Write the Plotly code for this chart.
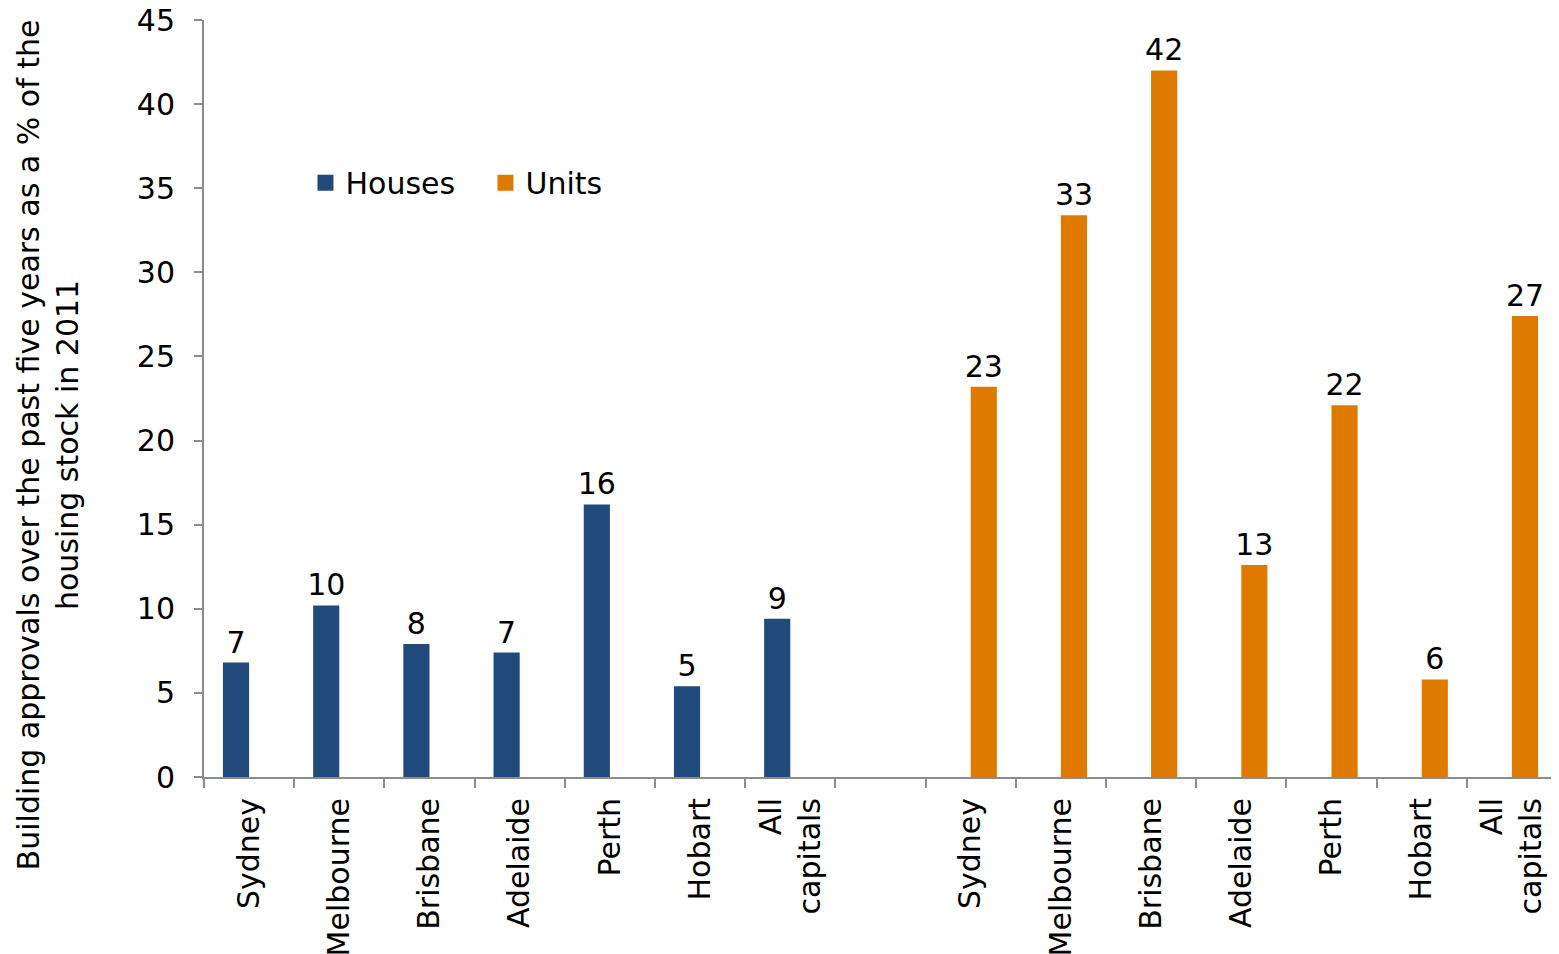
import plotly.graph_objects as go

cities = ["Sydney", "Melbourne", "Brisbane", "Adelaide", "Perth", "Hobart", "All<br>capitals"]
houses = [6.8, 10.2, 7.9, 7.4, 16.2, 5.4, 9.4]
units = [23.2, 33.4, 42.0, 12.6, 22.1, 5.8, 27.4]

# houses in slots 0-6, an empty slot, then units in slots 8-14
house_x = list(range(len(cities)))
unit_x = [len(cities) + 1 + i for i in range(len(cities))]
n_slots = len(cities) * 2 + 1

FONT = "DejaVu Sans, Verdana, sans-serif"
FS = 30
AXIS_GREY = "#8c8c8c"
HOUSE_COL = "#204a7c"
UNIT_COL = "#df7a00"
BAR_W = 0.29

fig = go.Figure()
# Excel-style clustered bars: houses sit left of the slot centre, units right
fig.add_trace(go.Bar(
    x=house_x, y=houses, name="Houses", width=BAR_W, offset=-BAR_W,
    marker=dict(color=HOUSE_COL, line=dict(width=0)),
    texttemplate="%{y:.0f}", textposition="outside", constraintext="none",
    textfont=dict(size=FS, color="black"), cliponaxis=False, showlegend=False,
))
fig.add_trace(go.Bar(
    x=unit_x, y=units, name="Units", width=BAR_W, offset=0,
    marker=dict(color=UNIT_COL, line=dict(width=0)),
    texttemplate="%{y:.0f}", textposition="outside", constraintext="none",
    textfont=dict(size=FS, color="black"), cliponaxis=False, showlegend=False,
))
# legend entries with bigger square swatches
for name, col in [("Houses", HOUSE_COL), ("Units", UNIT_COL)]:
    fig.add_trace(go.Scatter(
        x=[None], y=[None], mode="markers", name=name,
        marker=dict(symbol="square", size=16, color=col),
    ))

fig.update_layout(
    width=1559, height=954,
    margin=dict(l=196, r=10, t=12, b=185, autoexpand=False),
    font=dict(family=FONT, size=FS, color="black"),
    plot_bgcolor="white", paper_bgcolor="white",
    barmode="overlay",
    legend=dict(
        orientation="h", x=0.075, y=0.785, xanchor="left", yanchor="middle",
        font=dict(size=FS), bgcolor="rgba(0,0,0,0)", itemsizing="trace",
        entrywidth=135,
    ),
    xaxis=dict(
        range=[-0.5, n_slots - 0.5], automargin=False,
        tickmode="array", tickvals=house_x + unit_x, ticktext=cities + cities,
        tickangle=-90, ticks="", ticklabelstandoff=7,
        showline=True, linecolor=AXIS_GREY, linewidth=2,
        showgrid=False, zeroline=False,
        minor=dict(
            tickmode="array", tickvals=[i - 0.5 for i in range(n_slots + 1)],
            ticks="outside", ticklen=9, tickcolor=AXIS_GREY, tickwidth=2, showgrid=False,
        ),
    ),
    yaxis=dict(
        range=[0, 45], dtick=5, ticks="outside", ticklen=8, automargin=False,
        tickcolor=AXIS_GREY, tickwidth=2, ticklabelstandoff=13,
        ticklabeloverflow="allow",
        showline=True, linecolor=AXIS_GREY, linewidth=2,
        showgrid=False, zeroline=False,
    ),
    annotations=[dict(
        text="Building approvals over the past five years as a % of the<br>housing stock in 2011",
        textangle=-90, xref="paper", yref="paper", x=-0.115, y=0.4386,
        xanchor="center", yanchor="middle", showarrow=False,
        font=dict(size=FS, color="black"),
    )],
)

fig.write_html("out.html")
